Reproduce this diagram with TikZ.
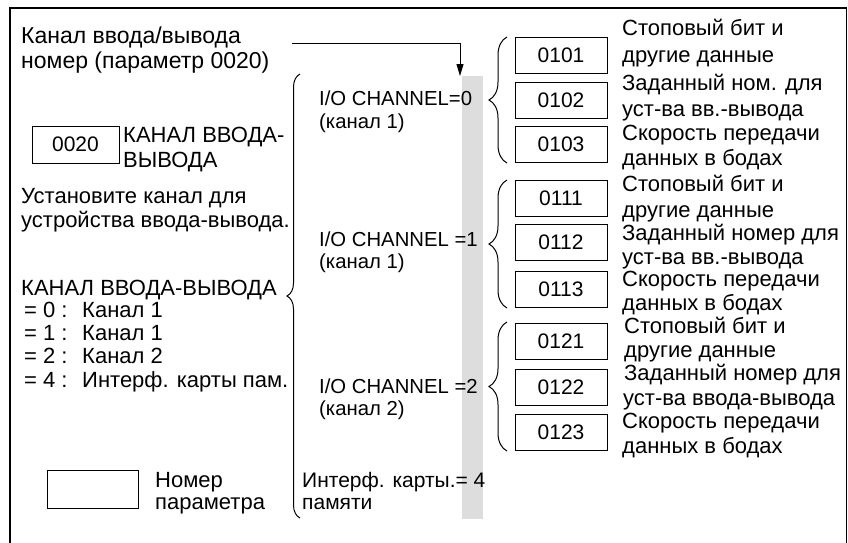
\documentclass[tikz,border=0pt]{standalone}
\usepackage{fontspec}
\setmainfont{Liberation Sans}
\usetikzlibrary{decorations.pathreplacing,arrows.meta}
\definecolor{bargray}{HTML}{DDDDDD}
\begin{document}
\begin{tikzpicture}[x=1pt,y=-1pt,
  txt/.style={anchor=base west, inner sep=0pt, font=\fontsize{22}{26}\selectfont},
  big/.style={txt, font=\fontsize{23}{27}\selectfont},
  io/.style={txt, font=\fontsize{20.3}{24}\selectfont},
  mid/.style={txt, font=\fontsize{21}{25}\selectfont},
  pbox/.style={draw, line width=1pt, minimum width=92pt, minimum height=36pt, inner sep=0pt, font=\fontsize{21}{25}\selectfont},
  brc/.style={decorate, decoration={brace, amplitude=#1}, line width=1pt},
  brc/.default=18pt,
  arr/.style={-{Triangle[length=12pt,width=7pt]}, line width=1pt}]
\useasboundingbox (0,0) rectangle (848,542);
% frame
\draw[line width=1.8pt] (10,546) -- (10,8) -- (846.5,8) -- (846.5,546);
% gray bar
\node[fill=bargray, minimum width=21pt, minimum height=443pt, inner sep=0pt, anchor=north west] (bar) at (462,76) {};
% arrow
\node[big] (t1) at (21,43) {Канал ввода/вывода};
\node[big] (t2) at (21,68) {номер (параметр 0020)};
\coordinate (arrs) at (292,43);
\coordinate (arre) at (460,76);
\draw[arr] (arrs) -| (arre);
% left column
\node[pbox, minimum width=87pt, minimum height=37pt] (p0020) at (75.5,144.5) {0020};
\node[txt] (k1) at (123,142) {КАНАЛ ВВОДА-};
\node[txt] (k2) at (123,167) {ВЫВОДА};
\node[txt] (u1) at (21,203) {Установите канал для};
\node[txt] (u2) at (21,227) {устройства ввода-вывода.};
\node[txt] (kv) at (21,295) {КАНАЛ ВВОДА-ВЫВОДА};
\node[txt] (e0) at (24,317) {\makebox[58pt][l]{= 0 :}Канал 1};
\node[txt] (e1) at (24,340) {\makebox[58pt][l]{= 1 :}Канал 1};
\node[txt] (e2) at (24,363) {\makebox[58pt][l]{= 2 :}Канал 2};
\node[txt] (e4) at (24,387) {\makebox[58pt][l]{= 4 :}Интерф. карты пам.};
\node[pbox, minimum width=91pt, minimum height=38pt] (pempty) at (92.5,489) {};
\node[txt] (n1) at (155,487) {Номер};
\node[txt] (n2) at (155,509) {параметра};
% big brace
\coordinate (bbb) at (300,518);
\coordinate (bbt) at (300,74);
\draw[brc=13pt] (bbb) -- (bbt);
% middle texts
\node[io] (c0a) at (319,105) {I/O CHANNEL=0};
\node[io] (c0b) at (319,128) {(канал 1)};
\node[io] (c1a) at (319,246) {I/O CHANNEL =1};
\node[io] (c1b) at (319,268) {(канал 1)};
\node[io] (c2a) at (319,393) {I/O CHANNEL =2};
\node[io] (c2b) at (319,415) {(канал 2)};
\node[mid] (m1) at (302,487) {Интерф. карты.= 4};
\node[mid] (m2) at (302,509) {памяти};
% small braces
\coordinate (g1b) at (507,163); \coordinate (g1t) at (507,37);
\coordinate (g2b) at (507,308); \coordinate (g2t) at (507,180);
\coordinate (g3b) at (507,451); \coordinate (g3t) at (507,322);
\draw[brc] (g1b) -- (g1t);
\draw[brc] (g2b) -- (g2t);
\draw[brc] (g3b) -- (g3t);
% boxes
\node[pbox] (b0101) at (561,55) {0101};
\node[pbox] (b0102) at (561,100) {0102};
\node[pbox] (b0103) at (561,144.5) {0103};
\node[pbox] (b0111) at (561,198.5) {0111};
\node[pbox] (b0112) at (561,242.5) {0112};
\node[pbox] (b0113) at (561,289.5) {0113};
\node[pbox] (b0121) at (561,341.5) {0121};
\node[pbox] (b0122) at (561,387) {0122};
\node[pbox] (b0123) at (561,432) {0123};
% descriptions
\node[txt] (d1) at (622,35) {Стоповый бит и};
\node[txt] (d2) at (622,62) {другие данные};
\node[txt] (d3) at (622,90) {Заданный ном. для};
\node[txt] (d4) at (622,116) {уст-ва вв.-вывода};
\node[txt] (d5) at (622,140) {Скорость передачи};
\node[txt] (d6) at (622,165) {данных в бодах};
\node[txt] (d7) at (622,191) {Стоповый бит и};
\node[txt] (d8) at (622,217) {другие данные};
\node[txt] (d9) at (622,240) {Заданный номер для};
\node[txt] (d10) at (622,264) {уст-ва вв.-вывода};
\node[txt] (d11) at (622,286) {Скорость передачи};
\node[txt] (d12) at (622,310) {данных в бодах};
\node[txt] (d13) at (624,333) {Стоповый бит и};
\node[txt] (d14) at (624,357) {другие данные};
\node[txt] (d15) at (624,380) {Заданный номер для};
\node[txt] (d16) at (623,405) {уст-ва ввода-вывода};
\node[txt] (d17) at (622,428) {Скорость передачи};
\node[txt] (d18) at (622,453) {данных в бодах};
\end{tikzpicture}
\end{document}
